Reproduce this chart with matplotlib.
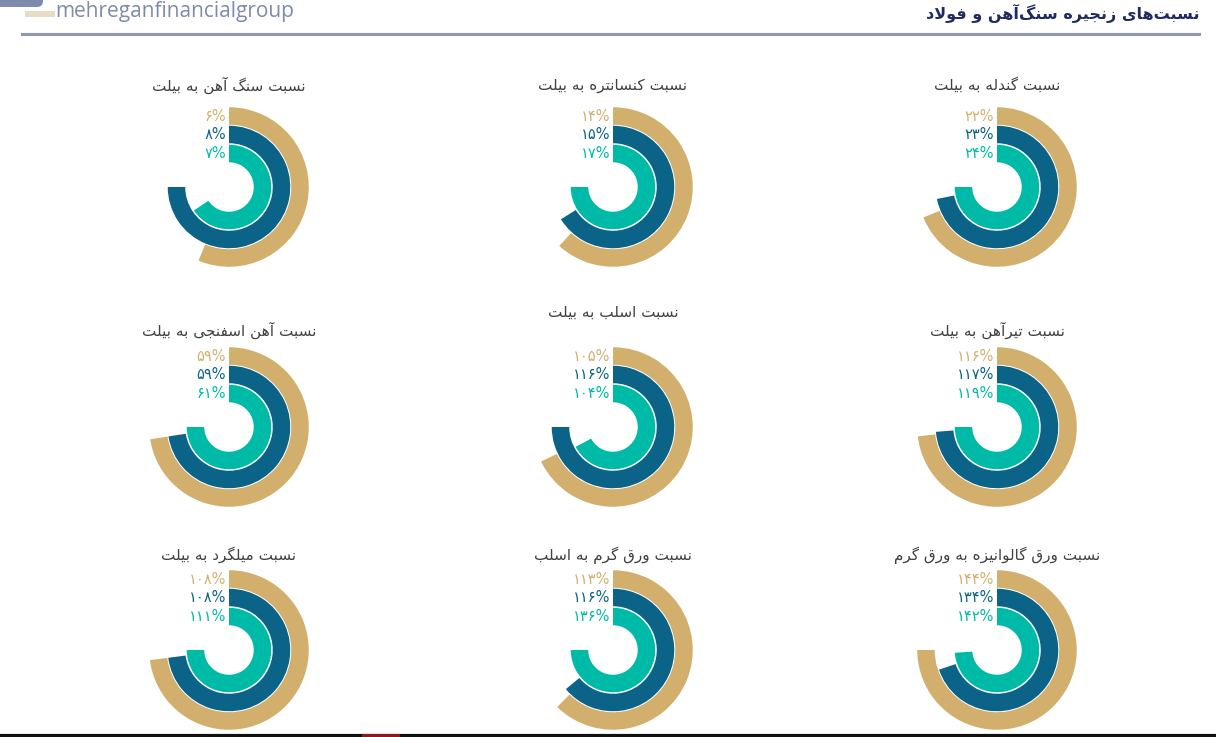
import matplotlib
matplotlib.use("Agg")
import numpy as np
import matplotlib.pyplot as plt
from matplotlib.patches import Rectangle, FancyBboxPatch

# ---- data (reading order: right to left, top to bottom, as in the picture) ----
titles = [
    "نسبت گندله به بیلت", "نسبت کنسانتره به بیلت", "نسبت سنگ آهن به بیلت",
    "نسبت تیرآهن به بیلت", "نسبت اسلب به بیلت", "نسبت آهن اسفنجی به بیلت",
    "نسبت ورق گالوانیزه به ورق گرم", "نسبت ورق گرم به اسلب", "نسبت میلگرد به بیلت",
]
gold_vals = [22, 14, 6, 116, 105, 59, 144, 113, 108]
blue_vals = [23, 15, 8, 117, 116, 59, 134, 116, 108]
teal_vals = [24, 17, 7, 119, 104, 61, 142, 136, 111]
header_title = "نسبت\u200cهای زنجیره سنگ\u200cآهن و فولاد"
logo_text = "mehreganfinancialgroup"

GOLD, BLUE, TEAL = "#D3AF6E", "#0B6387", "#00BAA8"
W, H = 1216, 737

# ---- minimal persian shaping (matplotlib has no bidi / joining) ----
FORMS = {  # isolated, final, initial, medial
    "ا": (0xFE8D, 0xFE8E, None, None), "آ": (0xFE81, 0xFE82, None, None),
    "ب": (0xFE8F, 0xFE90, 0xFE91, 0xFE92), "ت": (0xFE95, 0xFE96, 0xFE97, 0xFE98),
    "ج": (0xFE9D, 0xFE9E, 0xFE9F, 0xFEA0), "د": (0xFEA9, 0xFEAA, None, None),
    "ر": (0xFEAD, 0xFEAE, None, None), "ز": (0xFEAF, 0xFEB0, None, None),
    "س": (0xFEB1, 0xFEB2, 0xFEB3, 0xFEB4), "ف": (0xFED1, 0xFED2, 0xFED3, 0xFED4),
    "ق": (0xFED5, 0xFED6, 0xFED7, 0xFED8), "ل": (0xFEDD, 0xFEDE, 0xFEDF, 0xFEE0),
    "م": (0xFEE1, 0xFEE2, 0xFEE3, 0xFEE4), "ن": (0xFEE5, 0xFEE6, 0xFEE7, 0xFEE8),
    "ه": (0xFEE9, 0xFEEA, 0xFEEB, 0xFEEC), "و": (0xFEED, 0xFEEE, None, None),
    "ی": (0xFBFC, 0xFBFD, 0xFBFE, 0xFBFF), "ک": (0xFB8E, 0xFB8F, 0xFB90, 0xFB91),
    "گ": (0xFB92, 0xFB93, 0xFB94, 0xFB95),
}
LAM_ALEF = {"ا": (0xFEFB, 0xFEFC), "آ": (0xFEF5, 0xFEF6)}


def fa(text):
    out, i = [], 0
    while i < len(text):
        c = text[i]
        prev = text[i - 1] if i > 0 else ""
        nxt = text[i + 1] if i + 1 < len(text) else ""
        if c not in FORMS:
            if c != "\u200c":
                out.append(c)
            i += 1
            continue
        jp = prev in FORMS and FORMS[prev][2] is not None
        if c == "ل" and nxt in LAM_ALEF:
            out.append(chr(LAM_ALEF[nxt][1 if jp else 0]))
            i += 2
            continue
        jn = FORMS[c][2] is not None and nxt in FORMS
        iso, fin, ini, med = FORMS[c]
        out.append(chr(med if jp and jn else fin if jp else ini if jn else iso))
        i += 1
    return "".join(reversed(out))


def fa_num(v):
    return "".join(chr(0x06F0 + int(d)) for d in str(v)) + "%"


fig = plt.figure(figsize=(W / 100, H / 100), dpi=100)
bg = fig.add_axes([0, 0, 1, 1])
bg.set_xlim(0, W)
bg.set_ylim(H, 0)
bg.axis("off")

# header
bg.add_patch(FancyBboxPatch((-20, -10), 63, 17, boxstyle="round,pad=0,rounding_size=6",
                            color="#7F8BAA", lw=0))
bg.add_patch(Rectangle((25, 11), 30, 6, color="#E9DBC6", lw=0))
bg.text(55, 11, logo_text, fontsize=15, color="#7F8BAA", family="Open Sans",
        va="center", ha="left")
bg.text(1199, 13, fa(header_title), fontsize=11.5, color="#1E2B5E", weight="bold",
        family="DejaVu Sans", ha="right", va="center")
bg.plot([22, 1199], [34, 34], color="#8D97B5", lw=2.2)
bg.plot([0, W], [735.5, 735.5], color="#111111", lw=3, solid_capstyle="butt")
bg.plot([362, 400], [735.5, 735.5], color="#8B1A1A", lw=3, solid_capstyle="butt")

centers_x = [997, 613, 229]
centers_y = [187, 427, 650]
title_y = [85, 330, 555]
R = 82
ring_r = [71, 52.5, 33.5]      # gold, blue, teal mid radius
ring_w = 17.5

for k, title in enumerate(titles):
    row, col = divmod(k, 3)
    cx, cy = centers_x[col], centers_y[row]
    ty = title_y[row] if k != 4 else 312
    bg.text(cx, ty, fa(title), fontsize=11, color="#404040", ha="center",
            va="center", family="DejaVu Sans")

    vals = [gold_vals[k], blue_vals[k], teal_vals[k]]
    vmax = max(vals) * 4 / 3
    ax = fig.add_axes([(cx - R) / W, 1 - (cy + R) / H, 2 * R / W, 2 * R / H],
                      projection="polar")
    ax.set_theta_zero_location("N")
    ax.set_theta_direction(-1)
    ax.set_ylim(0, R)
    ax.axis("off")
    for v, r, c in zip(vals, ring_r, [GOLD, BLUE, TEAL]):
        ax.barh(r, 2 * np.pi * v / vmax, left=0, height=ring_w, color=c, lw=0)
        bg.text(cx - 3, cy - r, fa_num(v), fontsize=10.5, color=c, ha="right",
                va="center", family="DejaVu Sans")

fig.savefig("out.png", dpi=100, facecolor="white")
